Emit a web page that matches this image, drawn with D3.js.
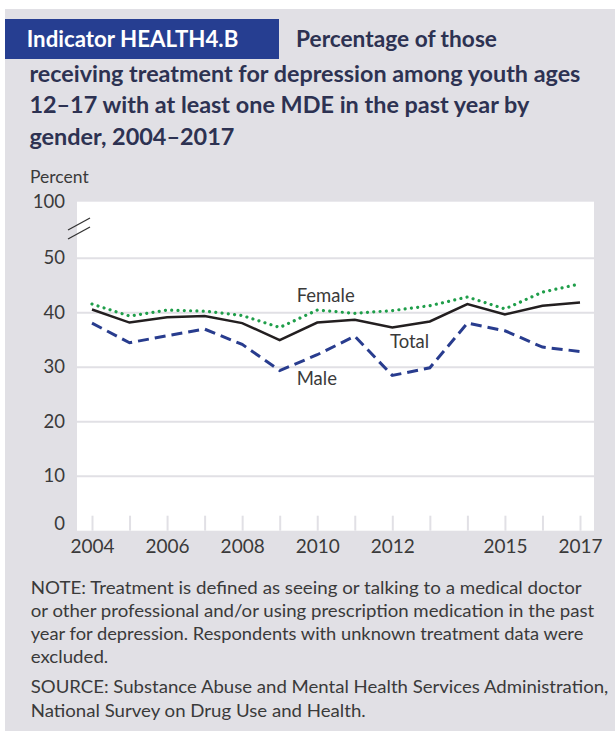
<!DOCTYPE html>
<html>
<head>
<meta charset="utf-8">
<script src="https://cdn.jsdelivr.net/npm/d3@7/dist/d3.min.js"></script>
<style>
  html, body { margin: 0; padding: 0; background: #ffffff; }
  svg { display: block; }
</style>
</head>
<body>
<svg id="chart" width="615" height="738"></svg>
<script>
// ---------- DATA ----------
const years = [2004, 2005, 2006, 2007, 2008, 2009, 2010, 2011, 2012, 2013, 2014, 2015, 2016, 2017];
const femaleValues = [41.6, 39.4, 40.5, 40.3, 39.5, 37.3, 40.5, 39.9, 40.4, 41.3, 42.9, 40.7, 43.8, 45.3];
const totalValues  = [40.6, 38.2, 39.2, 39.4, 38.1, 35.0, 38.2, 38.7, 37.3, 38.4, 41.6, 39.7, 41.3, 41.9];
const maleValues   = [38.1, 34.5, 35.8, 37.0, 34.2, 29.4, 32.3, 35.7, 28.5, 29.9, 38.1, 36.7, 33.7, 32.9];
const xTickLabels = [2004, 2006, 2008, 2010, 2012, 2015, 2017];
const yTickValues = [0, 10, 20, 30, 40, 50, 100];
const gridValues = [10, 20, 30, 40, 50];
const seriesNames = ["Female", "Total", "Male"];

const titleBadge = "Indicator HEALTH4.B";
const titleLines = [
  "Percentage of those",
  "receiving treatment for depression among youth ages",
  "12\u201317 with at least one MDE in the past year by",
  "gender, 2004\u20132017"
];
const noteLines = [
  "NOTE: Treatment is defined as seeing or talking to a medical doctor",
  "or other professional and/or using prescription medication in the past",
  "year for depression. Respondents with unknown treatment data were",
  "excluded."
];
const sourceLines = [
  "SOURCE: Substance Abuse and Mental Health Services Administration,",
  "National Survey on Drug Use and Health."
];

// ---------- LAYOUT ----------
const svg = d3.select("#chart");
const GRAY = "#e1e0e5";
const NAVY = "#263e91";
const TITLE_COLOR = "#2d3252";
const TEXT_COLOR = "#3a3a3a";
const FONT = "Lato, 'Open Sans', sans-serif";

const plot = { left: 77, right: 594, top: 201.7, bottom: 530.7 };

// panel background
svg.append("rect").attr("x", 5).attr("y", 9).attr("width", 610).attr("height", 722).attr("fill", GRAY);

// title badge
svg.append("rect").attr("x", 5).attr("y", 19).attr("width", 274).attr("height", 40).attr("fill", NAVY);
svg.append("text")
  .attr("x", 26.7).attr("y", 47)
  .attr("fill", "#ffffff")
  .attr("font-family", FONT).attr("font-weight", 700).attr("font-size", 22)
  .attr("textLength", 211.6).attr("lengthAdjust", "spacingAndGlyphs")
  .text(titleBadge);

const titlePos = [
  { x: 296, y: 47, w: 201 },
  { x: 29.4, y: 81.5, w: 551 },
  { x: 29.4, y: 113, w: 500 },
  { x: 29.4, y: 144.5, w: 205 }
];
titleLines.forEach((t, i) => {
  svg.append("text")
    .attr("x", titlePos[i].x).attr("y", titlePos[i].y)
    .attr("fill", TITLE_COLOR)
    .attr("font-family", FONT).attr("font-weight", 700).attr("font-size", 22)
    .attr("textLength", titlePos[i].w).attr("lengthAdjust", "spacingAndGlyphs")
    .text(t);
});

// plot background
svg.append("rect")
  .attr("x", plot.left).attr("y", plot.top)
  .attr("width", plot.right - plot.left).attr("height", plot.bottom - plot.top)
  .attr("fill", "#ffffff");

// ---------- SCALES ----------
const x = d3.scaleLinear().domain([2004, 2017]).range([92, 580]);
const y = d3.scaleLinear().domain([0, 50, 100]).range([plot.bottom, 258.3, plot.top]);

// gridlines
svg.append("g").selectAll("line").data(gridValues).join("line")
  .attr("x1", plot.left).attr("x2", plot.right)
  .attr("y1", d => y(d)).attr("y2", d => y(d))
  .attr("stroke", GRAY).attr("stroke-width", 2);

// x axis
const xAxis = d3.axisBottom(x)
  .tickValues(years)
  .tickSize(-15)
  .tickPadding(9)
  .tickFormat(d => xTickLabels.includes(d) ? String(d) : "");
const gx = svg.append("g").attr("transform", `translate(0,${plot.bottom})`).call(xAxis);
gx.select(".domain").remove();
gx.selectAll(".tick line").attr("stroke", GRAY).attr("stroke-width", 2);
gx.selectAll(".tick text")
  .attr("fill", TEXT_COLOR).attr("font-family", FONT).attr("font-size", 19);

// y axis
const yAxis = d3.axisLeft(y).tickValues(yTickValues).tickSize(0).tickPadding(12).tickFormat(d3.format("d"));
const gy = svg.append("g").attr("transform", `translate(${plot.left},0)`).call(yAxis);
gy.select(".domain").remove();
gy.selectAll(".tick text")
  .attr("fill", TEXT_COLOR).attr("font-family", FONT).attr("font-size", 18.5)
  .attr("dy", d => d === 0 ? "-0.05em" : "0.3em");

// axis title
svg.append("text").attr("x", 30).attr("y", 183)
  .attr("fill", TEXT_COLOR).attr("font-family", FONT).attr("font-size", 17.5)
  .text("Percent");

// axis break marks
const breakG = svg.append("g").attr("stroke", "#333333").attr("stroke-width", 1.3);
[0, 9].forEach(off => {
  breakG.append("line")
    .attr("x1", 68).attr("y1", 230 + off)
    .attr("x2", 90).attr("y2", 218 + off);
});

// ---------- LINES ----------
const line = d3.line().x(d => x(d.year)).y(d => y(d.value));
const toPts = vals => years.map((yr, i) => ({ year: yr, value: vals[i] }));

svg.append("path").datum(toPts(totalValues))
  .attr("d", line).attr("fill", "none")
  .attr("stroke", "#231f20").attr("stroke-width", 2.5).attr("stroke-linejoin", "miter");

svg.append("path").datum(toPts(maleValues))
  .attr("d", line).attr("fill", "none")
  .attr("stroke", "#283c8e").attr("stroke-width", 3).attr("stroke-dasharray", "11,6");

svg.append("path").datum(toPts(femaleValues))
  .attr("d", line).attr("fill", "none")
  .attr("stroke", "#1f9e4a").attr("stroke-width", 3.2)
  .attr("stroke-dasharray", "0.01,6.3").attr("stroke-linecap", "round");

// series labels
const seriesLabelPos = [
  { name: seriesNames[0], x: 296.7, y: 301.7 },
  { name: seriesNames[1], x: 390, y: 348 },
  { name: seriesNames[2], x: 296.7, y: 385 }
];
svg.append("g").selectAll("text").data(seriesLabelPos).join("text")
  .attr("x", d => d.x).attr("y", d => d.y)
  .attr("fill", TEXT_COLOR).attr("font-family", FONT).attr("font-size", 18.5)
  .text(d => d.name);

// ---------- NOTES ----------
const noteW = [551, 563.6, 552.6, 77.6];
const noteY = [594.3, 617.3, 640.3, 663.3];
noteLines.forEach((t, i) => {
  svg.append("text").attr("x", 30.7).attr("y", noteY[i])
    .attr("fill", TEXT_COLOR).attr("font-family", FONT).attr("font-size", 18)
    .attr("textLength", noteW[i]).attr("lengthAdjust", "spacingAndGlyphs")
    .text(t);
});
const srcW = [577.6, 335];
const srcY = [693.3, 716.5];
sourceLines.forEach((t, i) => {
  svg.append("text").attr("x", 30.7).attr("y", srcY[i])
    .attr("fill", TEXT_COLOR).attr("font-family", FONT).attr("font-size", 18)
    .attr("textLength", srcW[i]).attr("lengthAdjust", "spacingAndGlyphs")
    .text(t);
});
</script>
</body>
</html>
